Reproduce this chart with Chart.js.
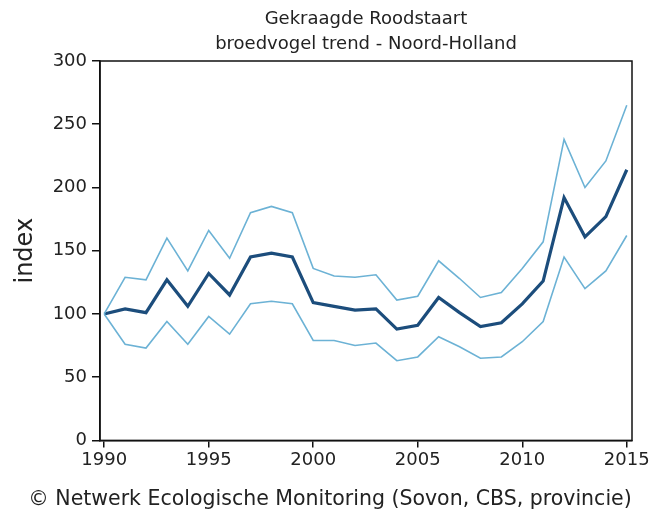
<!DOCTYPE html>
<html>
<head>
<meta charset="utf-8">
<script src="https://cdn.jsdelivr.net/npm/chart.js@4"></script>
<style>
  html, body { margin: 0; padding: 0; background: #fff; }
  #wrap { width: 660px; height: 516px; }
</style>
</head>
<body>
<div id="wrap"><canvas id="trendChart" width="660" height="516"></canvas></div>
<script>
const years = [1990, 1991, 1992, 1993, 1994, 1995, 1996, 1997, 1998, 1999, 2000, 2001, 2002,
               2003, 2004, 2005, 2006, 2007, 2008, 2009, 2010, 2011, 2012, 2013, 2014, 2015];
const indexValues = [100, 104, 101, 127, 106, 132, 115, 145, 148, 145, 109, 106, 103,
                     104, 88, 91, 113, 101, 90, 93, 108, 126, 192, 161, 177, 214];
const upperValues = [100, 129, 127, 160, 134, 166, 144, 180, 185, 180, 136, 130, 129,
                     131, 111, 114, 142, 128, 113, 117, 136, 157, 238, 200, 221, 265];
const lowerValues = [100, 76, 73, 94, 76, 98, 84, 108, 110, 108, 79, 79, 75,
                     77, 63, 66, 82, 74, 65, 66, 78, 94, 145, 120, 134, 162];
const xTicks = [1990, 1995, 2000, 2005, 2010, 2015];
const yTicks = [0, 50, 100, 150, 200, 250, 300];

const FONT = '"DejaVu Sans", Verdana, sans-serif';
const toPoints = vals => years.map((y, i) => ({ x: y, y: vals[i] }));

// box round the plot area (top and right side too)
const frame = {
    id: 'frame',
    beforeDatasetsDraw(chart) {
        const { ctx, chartArea: a } = chart;
        ctx.save();
        ctx.strokeStyle = '#111';
        ctx.lineWidth = 1.5;
        ctx.strokeRect(a.left, a.top, a.right - a.left, a.bottom - a.top);
        ctx.restore();
    }
};

const ctx = document.getElementById('trendChart').getContext('2d');
const trendChart = new Chart(ctx, {
    type: 'line',
    data: {
        datasets: [{
            label: 'bovengrens',
            data: toPoints(upperValues),
            borderColor: '#6cb2d5',
            borderWidth: 1.6
        }, {
            label: 'ondergrens',
            data: toPoints(lowerValues),
            borderColor: '#6cb2d5',
            borderWidth: 1.6
        }, {
            label: 'index',
            data: toPoints(indexValues),
            borderColor: '#1c4d7c',
            borderWidth: 3.2
        }]
    },
    options: {
        responsive: false,
        animation: false,
        layout: { padding: 0 },
        elements: {
            point: { radius: 0 },
            line: { tension: 0, borderJoinStyle: 'miter' }
        },
        plugins: {
            legend: { display: false },
            tooltip: { enabled: false },
            title: {
                display: true,
                fullSize: false,
                text: ['Gekraagde Roodstaart', 'broedvogel trend - Noord-Holland'],
                color: '#222',
                font: { family: FONT, size: 18, weight: 'normal', lineHeight: 1.4 },
                padding: { top: 7, bottom: 3.6 }
            },
            subtitle: {
                display: true,
                position: 'bottom',
                text: '\u00a9 Netwerk Ecologische Monitoring (Sovon, CBS, provincie)',
                color: '#222',
                font: { family: FONT, size: 20.5, weight: 'normal', lineHeight: 1.2 },
                padding: { top: 7, bottom: 4 }
            }
        },
        scales: {
            x: {
                type: 'linear',
                min: 1989.8,
                max: 2015.25,
                afterBuildTicks: s => { s.ticks = xTicks.map(v => ({ value: v })); },
                afterFit: s => { s.height = 40; },
                grid: { drawOnChartArea: false, drawTicks: true, tickLength: 7, color: '#111', lineWidth: 1.5 },
                border: { display: true, color: '#111', width: 1.5 },
                ticks: {
                    color: '#222',
                    padding: 2,
                    maxRotation: 0,
                    font: { family: FONT, size: 18 },
                    callback: v => String(v)
                }
            },
            y: {
                min: 0,
                max: 300,
                afterBuildTicks: s => { s.ticks = yTicks.map(v => ({ value: v })); },
                afterFit: s => { s.width = 100; },
                grid: { drawOnChartArea: false, drawTicks: true, tickLength: 8, color: '#111', lineWidth: 1.5 },
                border: { display: true, color: '#111', width: 1.5 },
                ticks: {
                    color: '#222',
                    padding: 5,
                    font: { family: FONT, size: 18 },
                    callback: v => String(v)
                },
                title: {
                    display: true,
                    text: 'index',
                    color: '#222',
                    font: { family: FONT, size: 24, lineHeight: 1.2 },
                    padding: { top: 11, bottom: 0 }
                }
            },
            // empty right-hand axis, only reserves the margin on the right
            yRight: {
                position: 'right',
                min: 0,
                max: 300,
                afterFit: s => { s.width = 28; },
                grid: { display: false },
                border: { display: false },
                ticks: { display: false }
            }
        }
    },
    plugins: [frame]
});
</script>
</body>
</html>
